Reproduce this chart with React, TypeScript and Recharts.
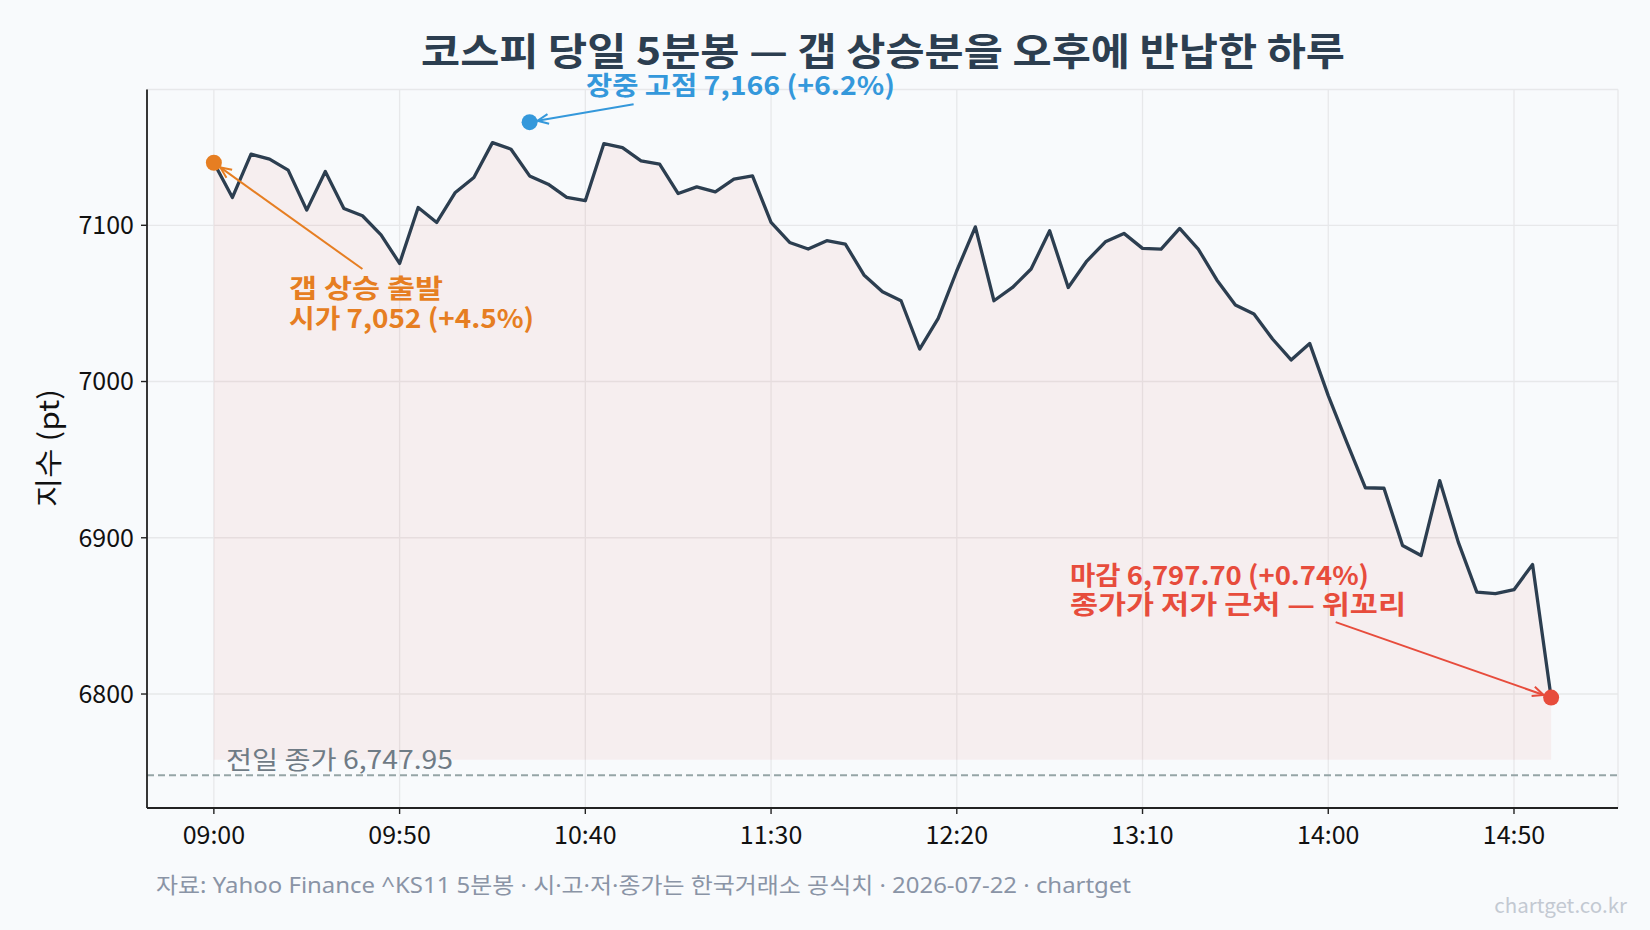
import React from "react";
import {
  ComposedChart,
  Area,
  Line,
  XAxis,
  YAxis,
  CartesianGrid,
  ReferenceLine,
  ReferenceDot,
} from "recharts";

// 5-minute bar closes, 09:00 ~ 15:00
const times = [
  "09:00", "09:05", "09:10", "09:15", "09:20", "09:25", "09:30", "09:35", "09:40", "09:45",
  "09:50", "09:55", "10:00", "10:05", "10:10", "10:15", "10:20", "10:25", "10:30", "10:35",
  "10:40", "10:45", "10:50", "10:55", "11:00", "11:05", "11:10", "11:15", "11:20", "11:25",
  "11:30", "11:35", "11:40", "11:45", "11:50", "11:55", "12:00", "12:05", "12:10", "12:15",
  "12:20", "12:25", "12:30", "12:35", "12:40", "12:45", "12:50", "12:55", "13:00", "13:05",
  "13:10", "13:15", "13:20", "13:25", "13:30", "13:35", "13:40", "13:45", "13:50", "13:55",
  "14:00", "14:05", "14:10", "14:15", "14:20", "14:25", "14:30", "14:35", "14:40", "14:45",
  "14:50", "14:55", "15:00",
];

const closes = [
  7140.0, 7117.8, 7145.5, 7142.3, 7135.3, 7109.7, 7134.4, 7110.7, 7106.1, 7093.9,
  7075.6, 7111.4, 7101.8, 7121.0, 7130.6, 7152.9, 7148.7, 7131.6, 7126.3, 7117.8,
  7115.7, 7152.3, 7149.7, 7141.2, 7139.1, 7120.3, 7124.6, 7121.4, 7129.5, 7131.6,
  7101.8, 7089.0, 7084.8, 7090.1, 7088.0, 7068.2, 7057.5, 7051.7, 7020.8, 7040.4,
  7070.9, 7099.0, 7051.7, 7060.2, 7072.0, 7096.5, 7060.2, 7077.1, 7089.4, 7094.8,
  7085.2, 7084.8, 7098.0, 7084.8, 7065.0, 7049.0, 7043.2, 7027.2, 7013.8, 7024.4,
  6991.0, 6961.0, 6932.0, 6931.7, 6895.1, 6888.7, 6936.6, 6897.2, 6865.2, 6864.2,
  6866.8, 6882.9, 6797.7,
];

const xTicks = [0, 10, 20, 30, 40, 50, 60, 70];
const yTicks = [6800, 6900, 7000, 7100];

const prevClose = 6747.95;
const dayHigh = 7166;
const dayHighIdx = 17;
const lastIdx = closes.length - 1;

const data = closes.map((v, i) => ({ i, time: times[i], v }));

const C = {
  bg: "#f8fafc",
  line: "#2c3e50",
  open: "#e67e22",
  high: "#3498db",
  close: "#e74c3c",
  prev: "#95a5a6",
  grid: "#e7e8ea",
  axis: "#222222",
};

// line + open "->" head, pulled back a bit from the target dot
function arrowShape(color: string, shrink = 8) {
  return (p: any) => {
    const { x1, y1, x2, y2 } = p;
    const dx = x2 - x1;
    const dy = y2 - y1;
    const len = Math.hypot(dx, dy) || 1;
    const ux = dx / len;
    const uy = dy / len;
    const tx = x2 - ux * shrink;
    const ty = y2 - uy * shrink;
    const head = 12;
    const a = (24 * Math.PI) / 180;
    const hx1 = tx - head * (ux * Math.cos(a) - uy * Math.sin(a));
    const hy1 = ty - head * (uy * Math.cos(a) + ux * Math.sin(a));
    const hx2 = tx - head * (ux * Math.cos(a) + uy * Math.sin(a));
    const hy2 = ty - head * (uy * Math.cos(a) - ux * Math.sin(a));
    return (
      <g>
        <line x1={x1} y1={y1} x2={tx} y2={ty} stroke={color} strokeWidth={2} />
        <polyline
          points={`${hx1},${hy1} ${tx},${ty} ${hx2},${hy2}`}
          fill="none"
          stroke={color}
          strokeWidth={2}
        />
      </g>
    );
  };
}

const FONT = '"Noto Sans CJK KR", "Noto Sans", sans-serif';
const LATIN_FIRST = '"Noto Sans", "Noto Sans CJK KR", sans-serif';
const fit = "spacingAndGlyphs";

export default function App() {
  return (
    <div
      style={{
        position: "absolute",
        left: 0,
        top: 0,
        width: 1650,
        height: 930,
        background: C.bg,
        fontFamily: FONT,
      }}
    >
      <ComposedChart
        width={1650}
        height={930}
        data={data}
        margin={{ top: 89.5, right: 32, bottom: 82, left: 67 }}
      >
        <CartesianGrid stroke={C.grid} strokeWidth={1.3} />
        <XAxis
          dataKey="i"
          type="number"
          domain={[-3.6, 75.6]}
          ticks={xTicks}
          tickFormatter={(i: number) => times[i]}
          interval={0}
          height={40}
          tickSize={6}
          tickMargin={12}
          axisLine={{ stroke: C.axis, strokeWidth: 1.8 }}
          tickLine={{ stroke: C.axis, strokeWidth: 1.4 }}
          tick={{ fill: "#111", fontSize: 25 }}
        />
        <YAxis
          type="number"
          domain={[6727.05, 7186.9]}
          ticks={yTicks}
          allowDataOverflow
          width={80}
          tickSize={6}
          tickMargin={7}
          axisLine={{ stroke: C.axis, strokeWidth: 1.8 }}
          tickLine={{ stroke: C.axis, strokeWidth: 1.4 }}
          tick={{ fill: "#111", fontSize: 25 }}
        />
        <ReferenceLine
          y={prevClose}
          stroke={C.prev}
          strokeWidth={2}
          strokeDasharray="7 4"
        />
        <Area
          dataKey="v"
          type="linear"
          baseValue={prevClose + 10}
          stroke="none"
          fill={C.close}
          fillOpacity={0.065}
          isAnimationActive={false}
        />
        <Line
          dataKey="v"
          type="linear"
          stroke={C.line}
          strokeWidth={3.3}
          strokeLinejoin="round"
          dot={false}
          activeDot={false}
          isAnimationActive={false}
        />
        <ReferenceLine
          segment={[{ x: 22.6, y: 7177.5 }, { x: dayHighIdx, y: dayHigh }]}
          ifOverflow="visible"
          shape={arrowShape(C.high)}
        />
        <ReferenceLine
          segment={[{ x: 8, y: 7072 }, { x: 0, y: closes[0] }]}
          ifOverflow="visible"
          shape={arrowShape(C.open)}
        />
        <ReferenceLine
          segment={[{ x: 60.4, y: 6846 }, { x: lastIdx, y: closes[lastIdx] }]}
          ifOverflow="visible"
          shape={arrowShape(C.close)}
        />
        <ReferenceDot x={0} y={closes[0]} r={8} fill={C.open} stroke="none" ifOverflow="visible" />
        <ReferenceDot x={dayHighIdx} y={dayHigh} r={8} fill={C.high} stroke="none" ifOverflow="visible" />
        <ReferenceDot x={lastIdx} y={closes[lastIdx]} r={8} fill={C.close} stroke="none" ifOverflow="visible" />
      </ComposedChart>

      <svg
        width={1650}
        height={930}
        style={{ position: "absolute", left: 0, top: 0, pointerEvents: "none", fontFamily: FONT }}
      >
        <text x={421} y={48} dominantBaseline="central" fontSize={38} fontWeight={700} fill={C.line} textLength={924} lengthAdjust={fit}>
          코스피 당일 5분봉 — 갭 상승분을 오후에 반납한 하루
        </text>
        <text
          x={47}
          y={448}
          textAnchor="middle"
          dominantBaseline="central"
          fontSize={28}
          fill="#111"
          textLength={118}
          lengthAdjust={fit}
          transform="rotate(-90 47 448)"
        >
          지수 (pt)
        </text>

        <text x={586} y={83} dominantBaseline="central" fontSize={26} fontWeight={700} fill={C.high} textLength={309} lengthAdjust={fit}>
          장중 고점 7,166 (+6.2%)
        </text>
        <text fontSize={26} fontWeight={700} fill={C.open} dominantBaseline="central">
          <tspan x={289} y={286} textLength={154} lengthAdjust={fit}>갭 상승 출발</tspan>
          <tspan x={289} y={315.5} textLength={245} lengthAdjust={fit}>시가 7,052 (+4.5%)</tspan>
        </text>
        <text fontSize={26} fontWeight={700} fill={C.close} dominantBaseline="central">
          <tspan x={1070} y={573} textLength={299} lengthAdjust={fit}>마감 6,797.70 (+0.74%)</tspan>
          <tspan x={1070} y={602} textLength={336} lengthAdjust={fit}>종가가 저가 근처 — 위꼬리</tspan>
        </text>
        <text x={226} y={758} dominantBaseline="central" fontSize={25} fill="#6f7b85" textLength={227} lengthAdjust={fit}>
          전일 종가 6,747.95
        </text>

        <text
          x={156}
          y={884}
          dominantBaseline="central"
          fontSize={22}
          fill="#8a94a6"
          textLength={975}
          lengthAdjust={fit}
          style={{ fontFamily: LATIN_FIRST }}
        >
          자료: Yahoo Finance ^KS11 5분봉 · 시·고·저·종가는 한국거래소 공식치 · 2026-07-22 · chartget
        </text>
        <text x={1627} y={904} textAnchor="end" dominantBaseline="central" fontSize={20.5} fill="#c3c9d2">
          chartget.co.kr
        </text>
      </svg>
    </div>
  );
}
